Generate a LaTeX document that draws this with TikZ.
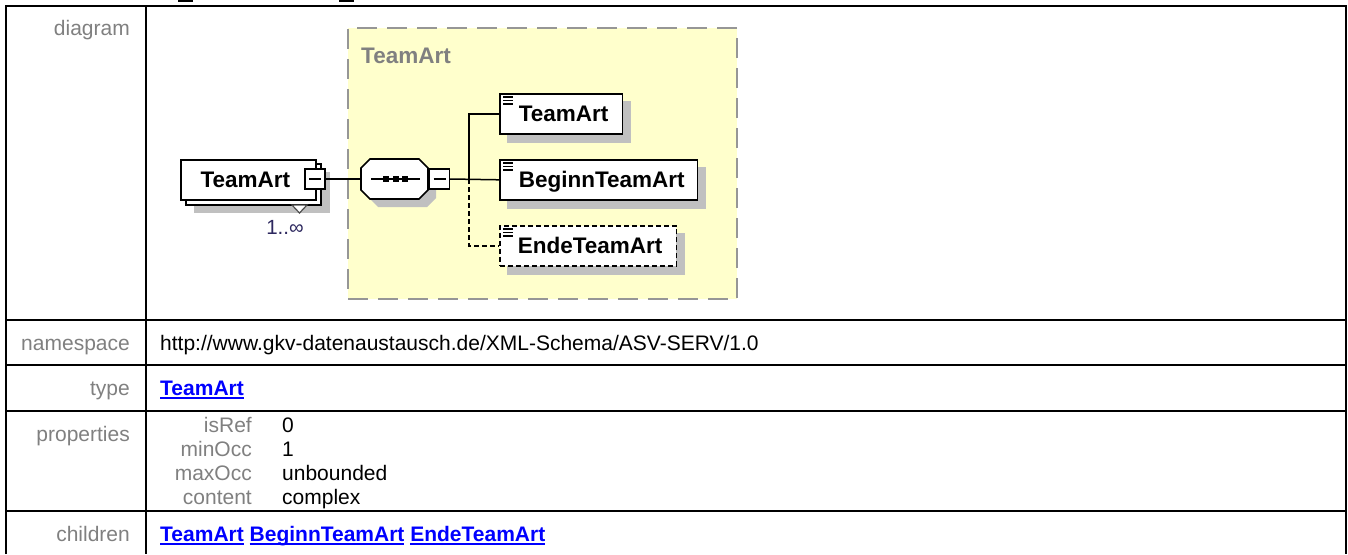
\documentclass[tikz,border=0pt]{standalone}
\usepackage{fontspec}
\setmainfont{Liberation Sans}
\usetikzlibrary{calc}
\pgfdeclarelayer{bg}
\pgfdeclarelayer{shd}
\pgfsetlayers{bg,shd,main}
\definecolor{lblgray}{RGB}{128,128,128}
\definecolor{shadegray}{RGB}{192,192,192}
\definecolor{paleyellow}{RGB}{255,255,204}
\definecolor{framegray}{RGB}{150,150,150}
\definecolor{linkblue}{RGB}{0,0,255}
\definecolor{occcolor}{RGB}{45,40,95}
\newcommand\ulk[1]{\setbox0\hbox{#1}\rlap{\rule[-3.5pt]{\wd0}{1.6pt}}\box0\relax}
\begin{document}
\begin{tikzpicture}[x=1pt,y=-1pt,
  tbl/.style={line width=2pt},
  lbl/.style={font=\fontsize{21}{24}\selectfont, text=lblgray, inner sep=0pt},
  val/.style={font=\fontsize{21}{24}\selectfont, text=black, inner sep=0pt},
  lnk/.style={font=\fontsize{21}{24}\selectfont\bfseries, text=linkblue, inner sep=0pt},
  elem/.style={draw, line width=1.6pt, fill=white, font=\fontsize{22.5}{26}\selectfont\bfseries,
    inner xsep=0pt, inner ysep=0pt, minimum height=40pt, text height=16.1pt, text depth=0pt},
  minusbox/.style={draw, line width=1.4pt, fill=white, minimum size=20pt, inner sep=0pt},
  conn/.style={line width=1.5pt},
  optconn/.style={line width=1.5pt, dash pattern=on 5pt off 3pt},
]
\begin{pgfonlayer}{bg}
\fill[white] (0,0) rectangle (1348,554);
\end{pgfonlayer}
\useasboundingbox (0,0) rectangle (1348,554);

% table frame
\draw[tbl, line join=miter] (6,554) -- (6,6) -- (1346,6) -- (1346,554);
\draw[tbl] (146,6) -- (146,554);
\foreach \yy in {320,365,411,511} \draw[tbl] (6,\yy) -- (1346,\yy);

% cropped fragments at the top edge
\fill (178,0) rectangle (193,1.6);
\fill (339,0) rectangle (354,1.6);

% left labels
\node[lbl, anchor=base east] (lDiagram) at (130,35) {diagram};
\node[lbl, anchor=base east] (lNs) at (130,350) {namespace};
\node[lbl, anchor=base east] (lType) at (130,395) {type};
\node[lbl, anchor=base east] (lProps) at (130,441) {properties};
\node[lbl, anchor=base east] (lChildren) at (130,541) {children};

% values
\node[val, anchor=base west] (vNs) at (160,350) {http://www.gkv-datenaustausch.de/XML-Schema/ASV-SERV/1.0};
\node[lnk, anchor=base west] (vType) at (160,395) {\ulk{TeamArt}};
\node[lbl, anchor=base east] (kIsRef) at (252,432) {isRef};
\node[lbl, anchor=base east] (kMin) at (252,456) {minOcc};
\node[lbl, anchor=base east] (kMax) at (252,480) {maxOcc};
\node[lbl, anchor=base east] (kCont) at (252,504) {content};
\node[val, anchor=base west] (pIsRef) at (282,432) {0};
\node[val, anchor=base west] (pMin) at (282,456) {1};
\node[val, anchor=base west] (pMax) at (282,480) {unbounded};
\node[val, anchor=base west] (pCont) at (282,504) {complex};
\node[lnk, anchor=base west] (vChildren) at (160,541) {\ulk{TeamArt} \ulk{BeginnTeamArt} \ulk{EndeTeamArt}};

% group region
\begin{pgfonlayer}{bg}
\node[draw=framegray, line width=2.2pt, dash pattern=on 20pt off 10pt, fill=paleyellow,
  minimum width=389pt, minimum height=271pt, inner sep=0pt, anchor=north west] (grp) at (347,27) {};
\end{pgfonlayer}
\node[font=\fontsize{22.5}{26}\selectfont\bfseries, text=lblgray, inner sep=0pt, anchor=base west] (grpLabel) at (361,63) {TeamArt};

% root element (repeated)
\fill[shadegray] (194,172) rectangle (330,213);
\draw[line width=1.6pt, fill=white] (186,164) rectangle (321,205);
\node[elem, minimum width=135pt, anchor=north west] (root) at (180,159) {\hspace*{18pt}TeamArt\hspace*{24pt}};
\draw[line width=1.2pt, draw=black!70, fill=white] (292,205) -- (307,205) -- (299.5,213) -- cycle;
\node[minusbox] (rootMinus) at (315,179) {\rule{12pt}{1.4pt}};
\node[font=\fontsize{20.5}{24}\selectfont, text=occcolor, inner sep=0pt, anchor=base] (occ) at (285,234) {1..∞};

% sequence compositor (octagon)
\fill[shadegray] (378,167) -- (427,167) -- (436,176) -- (436,198) -- (427,207) -- (378,207) -- (369,198) -- (369,176) -- cycle;
\draw[line width=1.6pt, fill=white] (370,159) -- (419,159) -- (428,168) -- (428,190) -- (419,199) -- (370,199) -- (361,190) -- (361,168) -- cycle;
\node[inner sep=0pt, minimum width=67pt, minimum height=40pt] (seq) at (394.5,179) {};
\draw[conn] (371,179) -- (420,179);
\fill (383,176) rectangle (389,182);
\fill (393,176) rectangle (399,182);
\fill (402,176) rectangle (408,182);
\node[minusbox] (seqMinus) at (439.5,179) {\rule{12pt}{1.4pt}};

% children
\node[elem, anchor=north west] (c1) at (499,93) {\hspace*{19pt}TeamArt\hspace*{14pt}};
\node[elem, anchor=north west] (c2) at (499,159) {\hspace*{19pt}BeginnTeamArt\hspace*{13pt}};
\node[elem, anchor=north west, dash pattern=on 5pt off 3pt] (c3) at (499,225) {\hspace*{18pt}EndeTeamArt\hspace*{14pt}};
\foreach \c in {c1,c2,c3} {
  \foreach \dy in {4,7.5,11}
    \draw[line width=1.2pt] ($(\c.north west)+(4,\dy)$) -- ++(10,0);
}

% shadows
\begin{pgfonlayer}{shd}
\foreach \c in {c1,c2,c3}
  \fill[shadegray] ($(\c.north west)+(8,8)$) rectangle ($(\c.south east)+(8,8)$);
\end{pgfonlayer}

% connectors
\coordinate (trunk) at (469,179);
\draw[conn] (rootMinus.east) -- (seq.west);
\draw[conn] (seqMinus.east) -- (c2.west);
\draw[conn] (trunk) |- (c1.west);
\draw[optconn] (trunk) |- (c3.west);
\end{tikzpicture}
\end{document}
